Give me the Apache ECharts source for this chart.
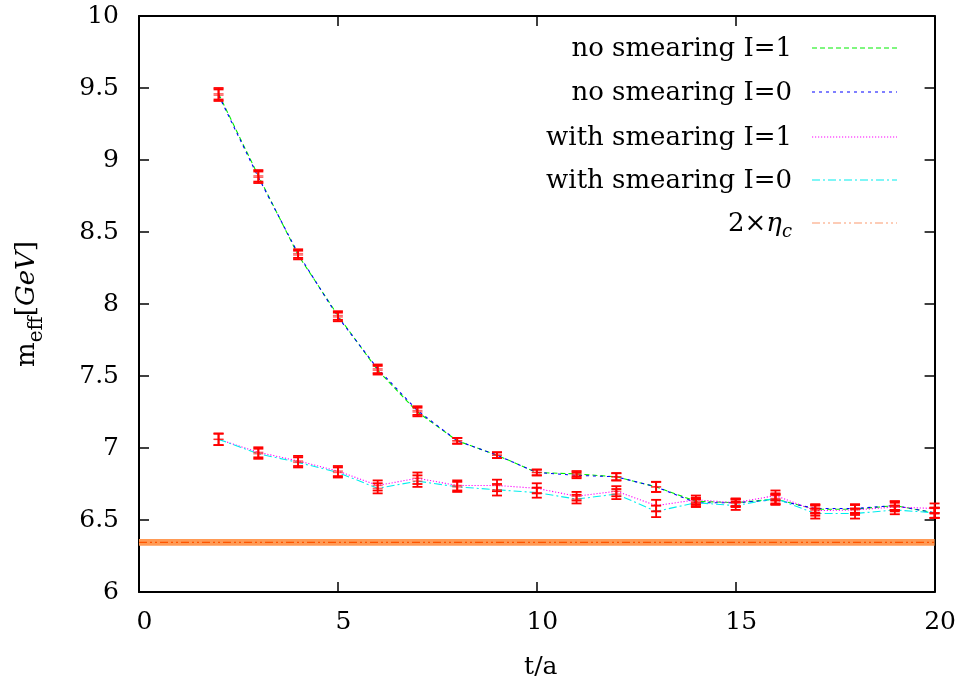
<!DOCTYPE html>
<html>
<head>
<meta charset="utf-8">
<script src="https://cdn.jsdelivr.net/npm/echarts@6/dist/echarts.min.js"></script>
<style>
  html, body { margin: 0; padding: 0; background: #fff; }
  #chart { width: 959px; height: 686px; }
</style>
</head>
<body>
<div id="chart"></div>
<script>
// Effective mass vs. Euclidean time slice
const tSlices = [2, 3, 4, 5, 6, 7, 8, 9, 10, 11, 12, 13, 14, 15, 16, 17, 18, 19, 20];

const noSmearI1    = [9.46, 8.89, 8.34, 7.92, 7.54, 7.25, 7.05, 6.95, 6.83, 6.82, 6.80, 6.73, 6.63, 6.62, 6.645, 6.575, 6.575, 6.60, 6.55];
const noSmearI1Err = [0.04, 0.04, 0.03, 0.03, 0.03, 0.03, 0.02, 0.02, 0.02, 0.02, 0.025, 0.035, 0.025, 0.025, 0.035, 0.03, 0.03, 0.03, 0.035];
const noSmearI0    = [9.45, 8.88, 8.35, 7.91, 7.55, 7.26, 7.05, 6.95, 6.83, 6.81, 6.80, 6.73, 6.62, 6.62, 6.64, 6.58, 6.58, 6.60, 6.55];
const noSmearI0Err = [0.04, 0.04, 0.03, 0.03, 0.03, 0.03, 0.02, 0.02, 0.02, 0.02, 0.025, 0.035, 0.025, 0.025, 0.035, 0.03, 0.03, 0.03, 0.035];

const smearI1    = [7.06, 6.97, 6.91, 6.84, 6.74, 6.79, 6.74, 6.74, 6.72, 6.665, 6.70, 6.60, 6.64, 6.62, 6.67, 6.565, 6.57, 6.59, 6.58];
const smearI1Err = [0.04, 0.035, 0.035, 0.035, 0.035, 0.04, 0.035, 0.04, 0.035, 0.03, 0.035, 0.04, 0.03, 0.03, 0.035, 0.035, 0.035, 0.03, 0.035];
const smearI0    = [7.06, 6.96, 6.90, 6.83, 6.72, 6.77, 6.73, 6.71, 6.69, 6.645, 6.68, 6.56, 6.62, 6.60, 6.65, 6.545, 6.545, 6.57, 6.55];
const smearI0Err = [0.04, 0.035, 0.035, 0.035, 0.035, 0.04, 0.035, 0.04, 0.035, 0.03, 0.035, 0.04, 0.03, 0.03, 0.035, 0.035, 0.035, 0.03, 0.035];

// twice the eta_c mass with its uncertainty band
const etaC2 = 6.345;
const etaC2Err = 0.023;
const etaRange = [0, 20];

const xTicks = { min: 0, max: 20, interval: 5 };
const yTicks = { min: 6, max: 10, interval: 0.5 };

const FONT = 'DejaVu Serif';

function pairs(ys) { return tSlices.map((t, i) => [t, ys[i]]); }
function triples(ys, es) { return tSlices.map((t, i) => [t, ys[i], es[i]]); }

function errorBarSeries(ys, es) {
  return {
    type: 'custom',
    xAxisIndex: 0, yAxisIndex: 0,
    z: 10,
    silent: true,
    data: triples(ys, es),
    renderItem: function (params, api) {
      const x = api.value(0), y = api.value(1), e = api.value(2);
      const lo = api.coord([x, y - e]);
      const hi = api.coord([x, y + e]);
      const c = api.coord([x, y]);
      const w = 5;
      const st = { stroke: '#ff0000', lineWidth: 1.8 };
      return {
        type: 'group',
        children: [
          { type: 'line', shape: { x1: lo[0], y1: lo[1], x2: hi[0], y2: hi[1] }, style: st },
          { type: 'line', shape: { x1: lo[0] - w, y1: lo[1], x2: lo[0] + w, y2: lo[1] }, style: st },
          { type: 'line', shape: { x1: hi[0] - w, y1: hi[1], x2: hi[0] + w, y2: hi[1] }, style: st },
          { type: 'line', shape: { x1: c[0] - w, y1: c[1], x2: c[0] + w, y2: c[1] }, style: { stroke: '#ff0000', lineWidth: 1.4, opacity: 0.6 } }
        ]
      };
    }
  };
}

function lineSeries(name, ys, color, dash) {
  return {
    name: name,
    type: 'line',
    data: pairs(ys),
    symbol: 'none',
    z: 5,
    lineStyle: { color: color, width: 1.1, type: dash },
    silent: true
  };
}

const legendItems = [
  { text: 'no smearing I=1', color: '#00ee00', dash: [5, 3] },
  { text: 'no smearing I=0', color: '#0000ff', dash: [3, 4] },
  { text: 'with smearing I=1', color: '#ff00ff', dash: [1.2, 1.8] },
  { text: 'with smearing I=0', color: '#00eeee', dash: [8, 3, 2, 3] },
  { text: '{a|2×}{i|η}{s|c}', color: '#fb9a6e', dash: [8, 3, 2, 3, 2, 3] }
];
const legendRowsY = [48, 92, 137, 180, 223];

const graphic = [];
legendItems.forEach((it, i) => {
  const y = legendRowsY[i];
  graphic.push({
    type: 'text',
    x: 792,
    y: y + 1,
    style: {
      text: it.text,
      font: '26px "' + FONT + '"',
      fill: '#000',
      align: 'right',
      verticalAlign: 'middle',
      textAlign: 'right',
      textVerticalAlign: 'middle',
      rich: {
        a: { fontFamily: FONT, fontSize: 26, lineHeight: 34, verticalAlign: 'middle' },
        i: { fontFamily: FONT, fontSize: 26, fontStyle: 'italic', lineHeight: 34, verticalAlign: 'middle' },
        s: { fontFamily: FONT, fontSize: 18, fontStyle: 'italic', lineHeight: 22, verticalAlign: 'bottom' }
      }
    }
  });
  graphic.push({
    type: 'line',
    shape: { x1: 812, y1: y, x2: 897, y2: y },
    style: { stroke: it.color, lineWidth: 1.2, lineDash: it.dash }
  });
});

const axisCommon = {
  axisLine: { show: true, onZero: false, lineStyle: { color: '#000', width: 2 } },
  axisTick: { show: true, inside: true, length: 10, lineStyle: { color: '#000', width: 1.5 } },
  splitLine: { show: false }
};

const option = {
  animation: false,
  backgroundColor: '#fff',
  grid: { left: 139, right: 24, top: 16, bottom: 94, containLabel: false },
  xAxis: [
    Object.assign({
      type: 'value', position: 'bottom',
      min: xTicks.min, max: xTicks.max, interval: xTicks.interval,
      name: 't/a', nameLocation: 'middle', nameGap: 63,
      nameTextStyle: { fontFamily: FONT, fontSize: 25, color: '#000', padding: [0, 0, 0, 8] },
      axisLabel: { fontFamily: FONT, fontSize: 25, color: '#000', margin: 18, padding: [0, 0, 0, 11] }
    }, axisCommon),
    Object.assign({
      type: 'value', position: 'top',
      min: xTicks.min, max: xTicks.max, interval: xTicks.interval,
      axisLabel: { show: false }
    }, axisCommon)
  ],
  yAxis: [
    Object.assign({
      type: 'value', position: 'left',
      min: yTicks.min, max: yTicks.max, interval: yTicks.interval,
      name: '{m|m}{s|eff}{m|[}{i|GeV}{m|]}', nameLocation: 'middle', nameGap: 92, nameRotate: 90,
      nameTextStyle: {
        color: '#000',
        rich: {
          m: { fontFamily: FONT, fontSize: 26, lineHeight: 40, verticalAlign: 'middle' },
          i: { fontFamily: FONT, fontSize: 26, fontStyle: 'italic', lineHeight: 40, verticalAlign: 'middle' },
          s: { fontFamily: FONT, fontSize: 20, lineHeight: 22, verticalAlign: 'bottom' }
        }
      },
      axisLabel: { fontFamily: FONT, fontSize: 25, color: '#000', margin: 20 }
    }, axisCommon),
    Object.assign({
      type: 'value', position: 'right',
      min: yTicks.min, max: yTicks.max, interval: yTicks.interval,
      axisLabel: { show: false }
    }, axisCommon)
  ],
  series: [
    {
      name: '2×ηc',
      type: 'line',
      data: etaRange.map(t => [t, etaC2]),
      symbol: 'none',
      z: 3,
      silent: true,
      lineStyle: { color: '#ff5500', width: 1.3, type: [8, 3, 2, 3, 2, 3] },
      markArea: {
        silent: true,
        itemStyle: { color: '#ff9a55', opacity: 1 },
        data: [[{ yAxis: etaC2 - etaC2Err }, { yAxis: etaC2 + etaC2Err }]]
      }
    },
    lineSeries('no smearing I=1', noSmearI1, '#00ee00', [5, 3]),
    lineSeries('no smearing I=0', noSmearI0, '#0000ff', [3, 4]),
    lineSeries('with smearing I=1', smearI1, '#ff00ff', [1.2, 1.8]),
    lineSeries('with smearing I=0', smearI0, '#00eeee', [8, 3, 2, 3]),
    errorBarSeries(noSmearI1, noSmearI1Err),
    errorBarSeries(noSmearI0, noSmearI0Err),
    errorBarSeries(smearI1, smearI1Err),
    errorBarSeries(smearI0, smearI0Err)
  ],
  graphic: graphic
};

const chart = echarts.init(document.getElementById('chart'), null, { renderer: 'canvas' });
chart.setOption(option);
</script>
</body>
</html>
